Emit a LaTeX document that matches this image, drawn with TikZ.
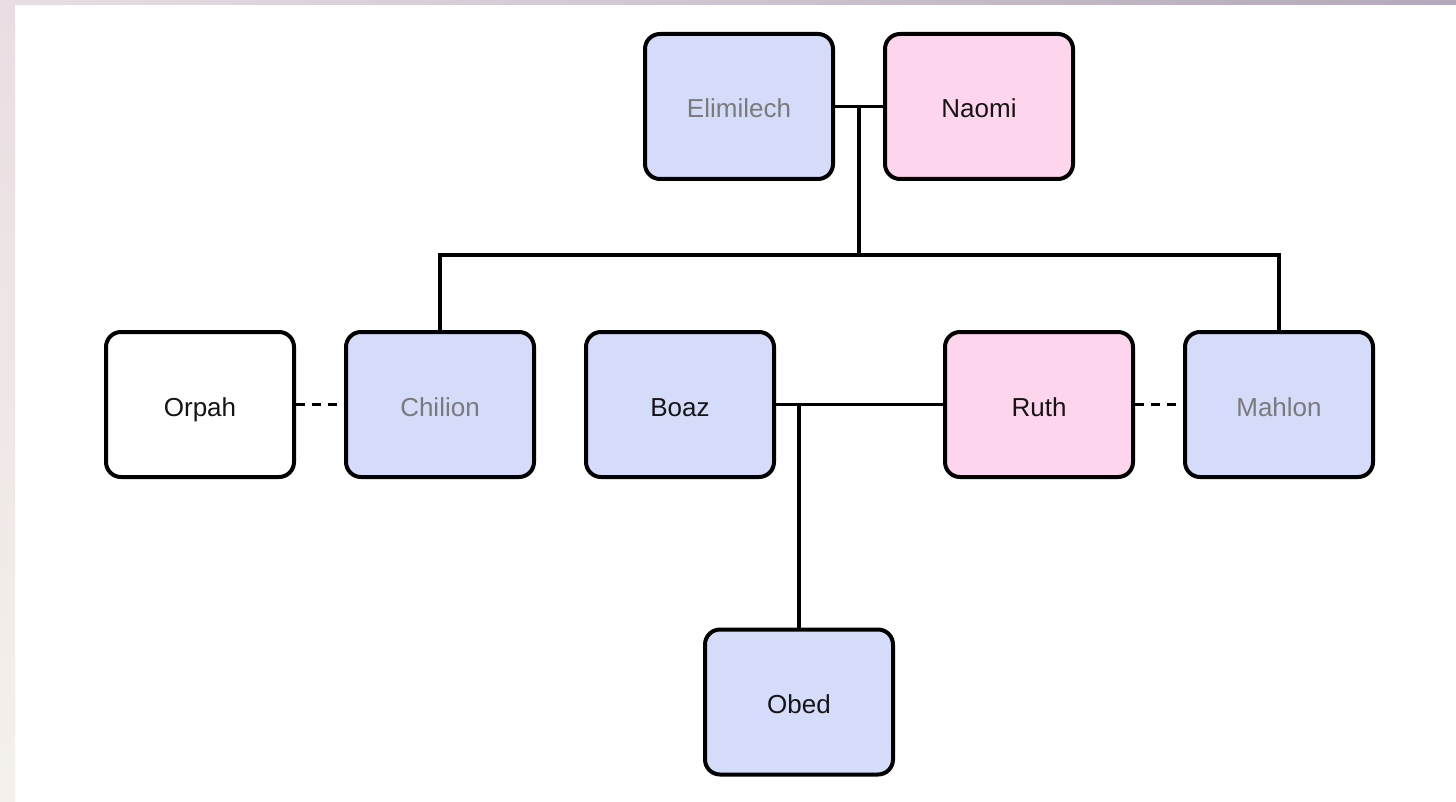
\documentclass[tikz,border=0pt]{standalone}
\usepackage{fontspec}
\setmainfont{Liberation Sans}
\definecolor{mblue}{HTML}{D5DCFA}
\definecolor{mpink}{HTML}{FDD5EC}
\definecolor{dead}{HTML}{7A7A7A}
\definecolor{alive}{HTML}{151515}
\definecolor{bgA}{HTML}{E9DEE3}
\definecolor{bgB}{HTML}{F5F1EA}
\definecolor{bgC}{HTML}{B4A8BA}
\begin{document}
\begin{tikzpicture}[x=1pt,y=-1pt,
  person/.style={draw=black, line width=4pt, rounded corners=15pt,
    minimum width=188pt, minimum height=145pt, inner sep=0pt,
    text height=26pt, text depth=3pt,
    font=\fontsize{26pt}{30pt}\selectfont, text=alive},
  male/.style={person, fill=mblue},
  female/.style={person, fill=mpink},
  other/.style={person, fill=white},
  deceased/.style={text=dead},
  link/.style={line width=3.8pt},
  wed/.style={line width=3.8pt, dash pattern=on 9pt off 7pt}]
\useasboundingbox (0,0) rectangle (1456,802);
\fill[white] (0,0) rectangle (1456,802);
\shade[top color=bgA, bottom color=bgB] (0,0) rectangle (15,802);
\shade[left color=bgA, right color=bgC] (0,0) rectangle (1456,5);
\fill[bgA] (0,0) rectangle (15,5);

\node[male, deceased] (elim) at (739,106.5) {Elimilech};
\node[female] (naomi) at (979,106.5) {Naomi};
\node[other] (orpah) at (200,404.5) {Orpah};
\node[male, deceased] (chil) at (440,404.5) {Chilion};
\node[male] (boaz) at (680,404.5) {Boaz};
\node[female] (ruth) at (1039,404.5) {Ruth};
\node[male, deceased] (mahl) at (1279,404.5) {Mahlon};
\node[male] (obed) at (799,702) {Obed};

\coordinate (cp1) at (859,106.5);
\coordinate (bar) at (859,255);

\draw[link] (elim.east) -- (naomi.west);
\draw[link] (cp1) -- (bar);
\draw[link] (chil.north) |- (bar) -| (mahl.north);
\draw[wed] (orpah.east) -- (chil.west);
\draw[wed] (ruth.east) -- (mahl.west);
\draw[link] (boaz.east) -- (ruth.west);
\draw[link] (obed.north |- boaz.east) -- (obed.north);
\end{tikzpicture}
\end{document}
